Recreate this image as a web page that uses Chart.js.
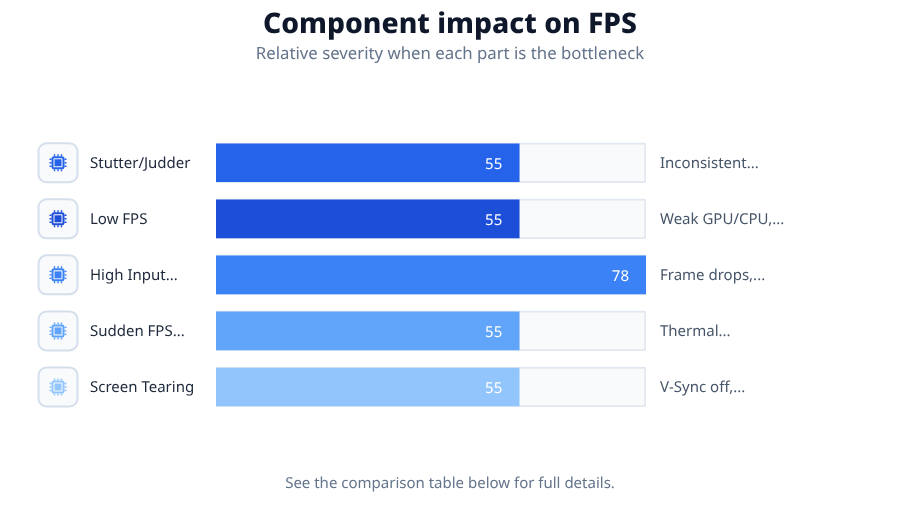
<!DOCTYPE html>
<html>
<head>
<meta charset="utf-8">
<title>Component impact on FPS</title>
<script src="https://cdn.jsdelivr.net/npm/chart.js@4/dist/chart.umd.js"></script>
<style>
  html, body { margin: 0; padding: 0; background: #fff; }
  #wrap { width: 900px; height: 506px; }
</style>
</head>
<body>
<div id="wrap"><canvas id="impact" width="900" height="506"></canvas></div>
<script>
const issues = ["Stutter/Judder", "Low FPS", "High Input...", "Sudden FPS...", "Screen Tearing"];
const causes = ["Inconsistent...", "Weak GPU/CPU,...", "Frame drops,...", "Thermal...", "V-Sync off,..."];
const severity = [55, 55, 78, 55, 55];
const trackValues = [78, 78, 78, 78, 78];
const barColors = ["#2563eb", "#1d4ed8", "#3b82f6", "#60a5fa", "#93c5fd"];

const FONT = "'Noto Sans', sans-serif";

function drawChip(ctx, cx, cy, color) {
  // tile behind the icon
  ctx.beginPath();
  ctx.roundRect(cx - 19.5, cy - 19.5, 39, 39, 8);
  ctx.fillStyle = "#f8fafc";
  ctx.fill();
  ctx.lineWidth = 2;
  ctx.strokeStyle = "#d5dfeb";
  ctx.stroke();

  // chip body, die and pins
  ctx.strokeStyle = color;
  ctx.fillStyle = color;
  ctx.lineWidth = 2;
  ctx.beginPath();
  ctx.roundRect(cx - 5.5, cy - 5.5, 11, 11, 1.5);
  ctx.stroke();
  ctx.fillRect(cx - 3.5, cy - 3.5, 7, 7);
  ctx.lineWidth = 1.4;
  ctx.beginPath();
  [-3.5, 0, 3.5].forEach((d) => {
    ctx.moveTo(cx + d, cy - 8.5); ctx.lineTo(cx + d, cy - 6.5);
    ctx.moveTo(cx + d, cy + 6.5); ctx.lineTo(cx + d, cy + 8.5);
    ctx.moveTo(cx - 8.5, cy + d); ctx.lineTo(cx - 6.5, cy + d);
    ctx.moveTo(cx + 6.5, cy + d); ctx.lineTo(cx + 8.5, cy + d);
  });
  ctx.stroke();
}

// chips on the left, value inside each bar, note under the chart
const rowDecor = {
  id: "rowDecor",
  beforeDraw(chart) {
    chart.ctx.textRendering = "geometricPrecision";
  },
  afterDraw(chart) {
    const { ctx, scales } = chart;
    ctx.save();
    issues.forEach((name, i) => {
      drawChip(ctx, 58, scales.y.getPixelForTick(i), barColors[i]);
    });
    const fills = chart.getDatasetMeta(0).data;
    ctx.font = "15px " + FONT;
    ctx.fillStyle = "#ffffff";
    ctx.textAlign = "right";
    ctx.textBaseline = "middle";
    fills.forEach((bar, i) => {
      ctx.fillText(String(severity[i]), bar.x - 17, bar.y + 2);
    });
    ctx.fillStyle = "#64748b";
    ctx.textAlign = "center";
    ctx.fillText("See the comparison table below for full details.", 450, 484);
    ctx.restore();
  },
};

new Chart(document.getElementById("impact"), {
  type: "bar",
  plugins: [rowDecor],
  data: {
    labels: issues,
    datasets: [
      {
        data: severity,
        backgroundColor: barColors,
        barThickness: 38,
        grouped: false,
        order: 1,
      },
      {
        data: trackValues,
        backgroundColor: "#f8fafc",
        borderColor: "#e2e8f0",
        borderWidth: 2,
        borderRadius: 2,
        barThickness: 40,
        grouped: false,
        order: 2,
      },
    ],
  },
  options: {
    indexAxis: "y",
    responsive: false,
    animation: false,
    // equal side padding keeps the title centred on the page
    layout: { padding: { left: 90, right: 90, top: 8, bottom: 91 } },
    scales: {
      x: { display: false, min: 0, max: 78 },
      y: {
        offset: true,
        grid: { display: false, drawTicks: false },
        border: { display: false },
        afterFit(scale) { scale.width = 126; },
        ticks: {
          autoSkip: false,
          crossAlign: "far",
          labelOffset: 1,
          color: "#1e293b",
          font: { family: FONT, size: 15 },
        },
      },
      y2: {
        type: "category",
        labels: causes,
        position: "right",
        offset: true,
        grid: { display: false, drawTicks: false },
        border: { display: false },
        afterFit(scale) { scale.width = 164; },
        ticks: {
          autoSkip: false,
          padding: 14,
          crossAlign: "near",
          labelOffset: 1,
          color: "#475569",
          font: { family: FONT, size: 15 },
        },
      },
    },
    plugins: {
      legend: { display: false },
      tooltip: { enabled: false },
      title: {
        display: true,
        text: "Component impact on FPS",
        color: "#0f172a",
        font: { family: FONT, size: 28.3, weight: "800", lineHeight: 1.2 },
        padding: { top: 0, bottom: 0 },
      },
      subtitle: {
        display: true,
        text: "Relative severity when each part is the bottleneck",
        color: "#64748b",
        font: { family: FONT, size: 16.8, lineHeight: 1.2 },
        padding: { top: 2, bottom: 70.6 },
      },
    },
  },
});
</script>
</body>
</html>
